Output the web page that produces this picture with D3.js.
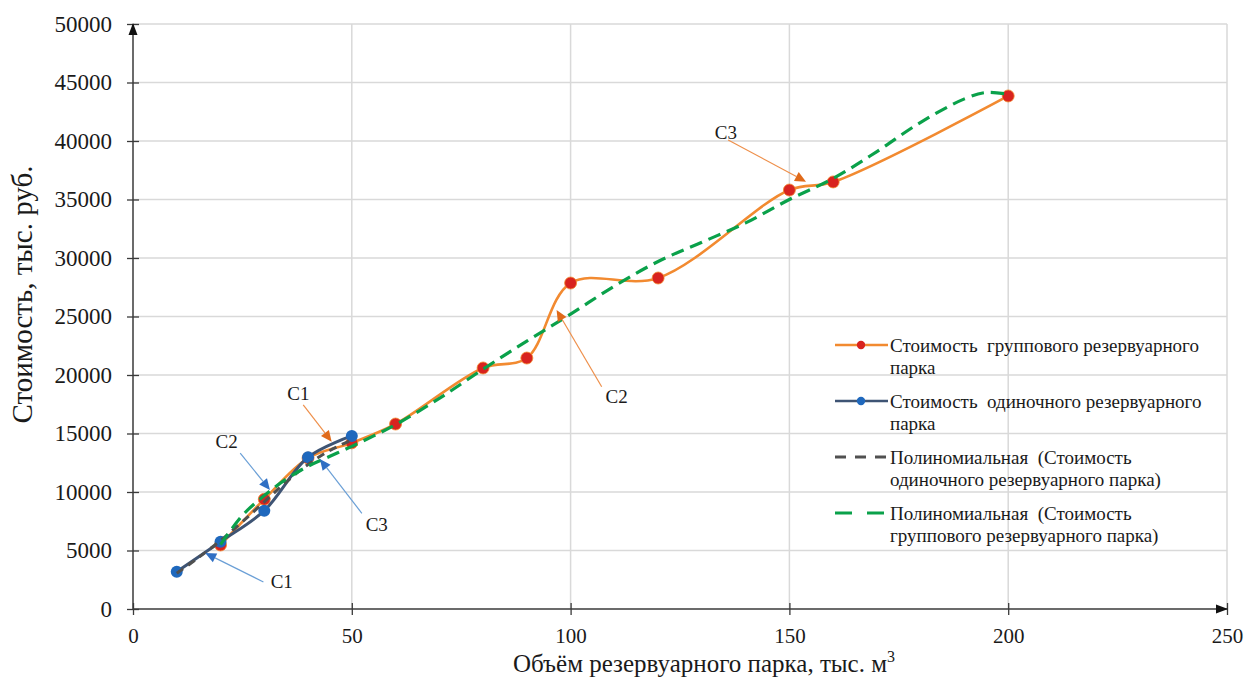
<!DOCTYPE html>
<html lang="ru">
<head>
<meta charset="utf-8">
<title>Стоимость резервуарного парка</title>
<script src="https://cdn.jsdelivr.net/npm/d3@7"></script>
<style>
  html, body { margin: 0; padding: 0; background: #ffffff; }
  svg { display: block; font-family: "Liberation Serif", "Times New Roman", serif; }
</style>
</head>
<body>
<svg id="chart" width="1247" height="684"></svg>
<script>
// Volume of the tank farm, thousand m3, and cost, thousand roubles
const groupVolume = [20, 30, 40, 50, 60, 80, 90, 100, 120, 150, 160, 200];
const groupCost   = [5470, 9380, 12900, 14200, 15810, 20600, 21450, 27860, 28290, 35810, 36500, 43850];

const singleVolume = [10, 20, 30, 40, 50];
const singleCost   = [3190, 5750, 8400, 12970, 14790];

// Polynomial trend lines as plotted
const singleTrendVolume = [10, 15, 20, 25, 30, 35, 40, 45, 50];
const singleTrendCost   = [3050, 4400, 5850, 7450, 9150, 10850, 12350, 13550, 14450];

const groupTrendVolume = [20, 25, 30, 35, 40, 45, 50, 55, 60, 70, 80, 90, 100, 110, 120, 130, 140, 150, 160, 170, 180, 190, 195, 200];
const groupTrendCost   = [5500, 8000, 9700, 11100, 12200, 13050, 13900, 14800, 15750, 18000, 20500, 22900, 25200, 27600, 29700, 31350, 33000, 35000, 36800, 39100, 41600, 43600, 44150, 44000];

// Axis ticks
const xTicks = [0, 50, 100, 150, 200, 250];
const yTicks = [0, 5000, 10000, 15000, 20000, 25000, 30000, 35000, 40000, 45000, 50000];

// Callouts: label text, series, label position, leader start, arrow tip (data units)
const calloutText   = ["C1", "C2", "C3", "C1", "C2", "C3"];
const calloutSeries = ["single", "single", "single", "group", "group", "group"];
const calloutLabel  = [[34.0, 2330], [21.4, 14300], [55.7, 7180], [37.8, 18440], [110.5, 18150], [135.5, 40710]];
const calloutStart  = [[29.8, 2310], [24.5, 13330], [52.3, 8180], [38.9, 17440], [107.1, 19000], [136.0, 40090]];
const calloutTip    = [[16.5, 4790], [31.3, 10170], [42.7, 12820], [45.4, 14300], [96.8, 25560], [153.8, 36520]];

// Legend entries
const legendText = [
  ["Стоимость  группового резервуарного", "парка"],
  ["Стоимость  одиночного резервуарного", "парка"],
  ["Полиномиальная  (Стоимость", "одиночного резервуарного парка)"],
  ["Полиномиальная  (Стоимость", "группового резервуарного парка)"]
];

const colors = {
  groupLine: "#f28a30",
  groupMarker: "#d8231f",
  singleLine: "#3e5474",
  singleMarker: "#1f68bd",
  singleTrend: "#505050",
  groupTrend: "#0aa14a",
  grid: "#d9d9d9",
  axis: "#3a3a3a",
  text: "#1a1a1a",
  calloutBlue: "#6a9fd6",
  arrowBlue: "#2f6fc4",
  calloutOrange: "#ee8f4a",
  arrowOrange: "#e06a1a"
};

const svg = d3.select("#chart");

const x = d3.scaleLinear().domain([0, 250]).range([133, 1227]);
const y = d3.scaleLinear().domain([0, 50000]).range([609, 24]);

// Grid
const grid = svg.append("g");
grid.selectAll("line.h").data(yTicks.filter(d => d > 0)).join("line")
  .attr("x1", x(0)).attr("x2", x(250))
  .attr("y1", d => y(d)).attr("y2", d => y(d))
  .attr("stroke", colors.grid).attr("stroke-width", 1.5);
grid.selectAll("line.v").data(xTicks.filter(d => d > 0)).join("line")
  .attr("x1", d => x(d)).attr("x2", d => x(d))
  .attr("y1", y(0)).attr("y2", y(50000))
  .attr("stroke", colors.grid).attr("stroke-width", 1.5);

// Axes
const yAxis = svg.append("g")
  .attr("transform", `translate(${x(0)},0)`)
  .call(d3.axisLeft(y).tickValues(yTicks).tickFormat(d3.format("d")).tickSize(6).tickPadding(15));
yAxis.select(".domain").remove();
yAxis.selectAll(".tick line").attr("x1", 6).attr("stroke", colors.axis).attr("stroke-width", 1.3);
yAxis.selectAll(".tick text").attr("font-size", 23).attr("fill", colors.text)
  .attr("font-family", "Liberation Serif, serif");

const xAxis = svg.append("g")
  .attr("transform", `translate(0,${y(0)})`)
  .call(d3.axisBottom(x).tickValues(xTicks).tickSize(6).tickPadding(13));
xAxis.select(".domain").remove();
xAxis.selectAll(".tick line").attr("y1", -6).attr("stroke", colors.axis).attr("stroke-width", 1.3);
xAxis.selectAll(".tick text").attr("font-size", 21).attr("fill", colors.text)
  .attr("font-family", "Liberation Serif, serif");

// Axis lines with arrowheads
svg.append("line").attr("x1", x(0)).attr("x2", x(0)).attr("y1", y(0)).attr("y2", y(50000))
  .attr("stroke", colors.axis).attr("stroke-width", 1.5);
svg.append("line").attr("x1", x(0)).attr("x2", x(250)).attr("y1", y(0)).attr("y2", y(0))
  .attr("stroke", colors.axis).attr("stroke-width", 1.5);
svg.append("path")
  .attr("d", `M${x(0)},${y(50000) - 1} L${x(0) - 4.5},${y(50000) + 11} L${x(0) + 4.5},${y(50000) + 11} Z`)
  .attr("fill", "#111");
svg.append("path")
  .attr("d", `M${x(250) + 1},${y(0)} L${x(250) - 11},${y(0) - 4.5} L${x(250) - 11},${y(0) + 4.5} Z`)
  .attr("fill", "#111");

// Axis titles
svg.append("text")
  .attr("x", (x(0) + x(250)) / 2 + 24).attr("y", 672)
  .attr("text-anchor", "middle").attr("font-size", 25).attr("fill", colors.text)
  .text("Объём резервуарного парка, тыс. м")
  .append("tspan").attr("font-size", 16).attr("dy", -10).text("3");

svg.append("text")
  .attr("transform", `translate(32,${(y(0) + y(50000)) / 2 - 22}) rotate(-90)`)
  .attr("text-anchor", "middle").attr("font-size", 29).attr("fill", colors.text)
  .text("Стоимость, тыс. руб.");

// Series
const pts = (xs, ys) => xs.map((v, i) => [v, ys[i]]);
const groupPts = pts(groupVolume, groupCost);
const singlePts = pts(singleVolume, singleCost);
const smooth = d3.line().x(d => x(d[0])).y(d => y(d[1])).curve(d3.curveCatmullRom.alpha(0.5));

svg.append("path").datum(groupPts).attr("d", smooth)
  .attr("fill", "none").attr("stroke", colors.groupLine).attr("stroke-width", 2.6);
svg.append("g").selectAll("circle").data(groupPts).join("circle")
  .attr("cx", d => x(d[0])).attr("cy", d => y(d[1])).attr("r", 6)
  .attr("fill", colors.groupMarker).attr("stroke", colors.groupLine).attr("stroke-width", 0.8);

svg.append("path").datum(singlePts).attr("d", smooth)
  .attr("fill", "none").attr("stroke", colors.singleLine).attr("stroke-width", 3);
svg.append("g").selectAll("circle").data(singlePts).join("circle")
  .attr("cx", d => x(d[0])).attr("cy", d => y(d[1])).attr("r", 6)
  .attr("fill", colors.singleMarker);

// Trend lines
svg.append("path").datum(pts(singleTrendVolume, singleTrendCost)).attr("d", smooth)
  .attr("fill", "none").attr("stroke", colors.singleTrend).attr("stroke-width", 3)
  .attr("stroke-dasharray", "8,6");
svg.append("path").datum(pts(groupTrendVolume, groupTrendCost)).attr("d", smooth)
  .attr("fill", "none").attr("stroke", colors.groupTrend).attr("stroke-width", 3.2)
  .attr("stroke-dasharray", "13,7");

// Callouts
const callouts = calloutText.map((t, i) => ({
  text: t, series: calloutSeries[i],
  label: calloutLabel[i], start: calloutStart[i], tip: calloutTip[i]
}));
const cg = svg.append("g");
callouts.forEach(c => {
  const sx = x(c.start[0]), sy = y(c.start[1]);
  const tx = x(c.tip[0]), ty = y(c.tip[1]);
  const ang = Math.atan2(ty - sy, tx - sx);
  const len = 11, hw = 5;
  const bx = tx - len * Math.cos(ang), by = ty - len * Math.sin(ang);
  const lineColor = c.series === "single" ? colors.calloutBlue : colors.calloutOrange;
  const headColor = c.series === "single" ? colors.arrowBlue : colors.arrowOrange;
  cg.append("line").attr("x1", sx).attr("y1", sy).attr("x2", bx).attr("y2", by)
    .attr("stroke", lineColor).attr("stroke-width", 1.2);
  cg.append("path")
    .attr("d", `M${tx},${ty} L${bx + hw * Math.sin(ang)},${by - hw * Math.cos(ang)} L${bx - hw * Math.sin(ang)},${by + hw * Math.cos(ang)} Z`)
    .attr("fill", headColor);
  cg.append("text").attr("x", x(c.label[0])).attr("y", y(c.label[1]))
    .attr("text-anchor", "middle").attr("dominant-baseline", "central")
    .attr("font-size", 19).attr("fill", colors.text).text(c.text);
});

// Legend
const legend = svg.append("g").attr("transform", "translate(835,345)");
const entryGap = 56;
legendText.forEach((lines, i) => {
  const g = legend.append("g").attr("transform", `translate(0,${i * entryGap})`);
  if (i === 0 || i === 1) {
    g.append("line").attr("x1", 0).attr("x2", 53).attr("y1", 0).attr("y2", 0)
      .attr("stroke", i === 0 ? colors.groupLine : colors.singleLine).attr("stroke-width", 2.6);
    g.append("circle").attr("cx", 26).attr("cy", 0).attr("r", 4.2)
      .attr("fill", i === 0 ? colors.groupMarker : colors.singleMarker);
  } else if (i === 2) {
    g.append("line").attr("x1", 0).attr("x2", 53).attr("y1", 0).attr("y2", 0)
      .attr("stroke", colors.singleTrend).attr("stroke-width", 3).attr("stroke-dasharray", "11,9");
  } else {
    g.append("line").attr("x1", 0).attr("x2", 53).attr("y1", 0).attr("y2", 0)
      .attr("stroke", colors.groupTrend).attr("stroke-width", 3).attr("stroke-dasharray", "17,15");
  }
  lines.forEach((ln, j) => {
    g.append("text").attr("x", 55).attr("y", 6.5 + j * 22)
      .attr("font-size", 19).attr("fill", colors.text)
      .attr("xml:space", "preserve").style("white-space", "pre").text(ln);
  });
});
</script>
</body>
</html>
